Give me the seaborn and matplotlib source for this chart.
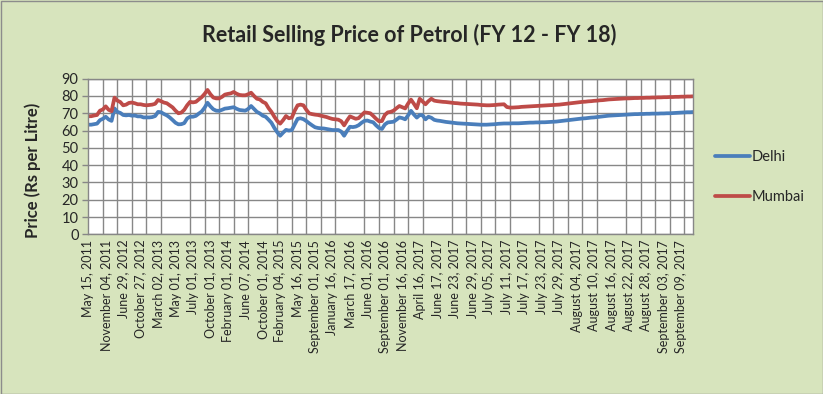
import numpy as np
import pandas as pd
import matplotlib
matplotlib.use('Agg')
import matplotlib.pyplot as plt
import seaborn as sns
from matplotlib.lines import Line2D
from matplotlib.patches import Rectangle

# ---- DATA ------------------------------------------------------------------ #
tick_labels = [
    'May 15, 2011', 'November 04, 2011', 'June 29, 2012', 'October 27, 2012',
    'March 02, 2013', 'May 01, 2013', 'July 01, 2013', 'October 01, 2013',
    'February 01, 2014', 'June 07, 2014', 'October 01, 2014', 'February 04, 2015',
    'May 16, 2015', 'September 01, 2015', 'January 16, 2016', 'March 17, 2016',
    'June 01, 2016', 'September 01, 2016', 'November 16, 2016', 'April 16, 2017',
    'June 17, 2017', 'June 23, 2017', 'June 29, 2017', 'July 05, 2017',
    'July 11, 2017', 'July 17, 2017', 'July 23, 2017', 'July 29, 2017',
    'August 04, 2017', 'August 10, 2017', 'August 16, 2017', 'August 22, 2017',
    'August 28, 2017', 'September 03, 2017', 'September 09, 2017']

delhi = [
    63.4, 63.4, 63.7, 64.0, 66.0, 66.8, 68.0, 66.4, 65.6, 72.8,
    70.8, 70.2, 69.0, 68.8, 69.0, 68.6, 68.7, 68.2, 68.2, 67.6,
    67.6, 67.6, 67.8, 68.4, 70.8, 70.6, 69.6, 68.8, 67.6, 66.1,
    64.5, 63.6, 63.7, 64.3, 67.0, 68.0, 68.0, 68.5, 69.8, 71.0,
    73.2, 76.1, 74.0, 72.3, 71.5, 71.4, 72.0, 72.7, 72.9, 73.2,
    73.5, 72.6, 71.9, 71.7, 71.5, 72.5, 74.2, 72.5, 70.8, 69.9,
    68.6, 68.0, 66.3, 64.5, 61.5, 59.0, 57.0, 58.8, 60.4, 60.0,
    60.3, 63.5, 66.8, 67.1, 66.6, 65.5, 64.2, 63.0, 61.9, 61.5,
    61.3, 61.2, 60.9, 60.6, 60.3, 60.3, 60.3, 59.4, 57.0, 59.8,
    62.2, 62.0, 62.3, 63.1, 64.5, 65.6, 65.8, 65.2, 64.8, 63.0,
    61.5, 60.9, 63.5, 64.7, 64.9, 65.1, 66.3, 67.6, 67.2, 66.5,
    68.8, 71.4, 69.3, 67.5, 69.0, 68.8, 66.5, 68.0, 67.4, 66.2,
    65.8, 65.6, 65.3, 65.0, 64.8, 64.6, 64.4, 64.2, 64.1, 64.0,
    63.9, 63.8, 63.7, 63.6, 63.5, 63.4, 63.4, 63.4, 63.5, 63.6,
    63.7, 63.9, 64.0, 64.1, 64.1, 64.1, 64.2, 64.2, 64.2, 64.3,
    64.4, 64.5, 64.6, 64.6, 64.7, 64.7, 64.8, 64.8, 64.9, 65.0,
    65.1, 65.2, 65.4, 65.6, 65.8, 66.0, 66.2, 66.4, 66.6, 66.8,
    67.0, 67.1, 67.3, 67.5, 67.6, 67.8, 68.0, 68.2, 68.4, 68.6,
    68.7, 68.8, 68.9, 69.0, 69.1, 69.2, 69.3, 69.4, 69.5, 69.5,
    69.6, 69.6, 69.7, 69.7, 69.8, 69.8, 69.8, 69.9, 69.9, 70.0,
    70.0, 70.1, 70.2, 70.3, 70.4, 70.5, 70.6, 70.6, 70.7]

mumbai = [
    68.3, 68.3, 68.7, 69.0, 71.5, 72.2, 74.0, 72.0, 71.2, 79.0,
    77.3, 76.5, 74.6, 75.0, 76.0, 76.2, 75.8, 75.2, 75.2, 74.8,
    74.6, 74.8, 75.0, 75.5, 77.7, 77.0, 76.2, 75.8, 74.6, 73.4,
    71.5, 70.0, 70.4, 72.0, 74.6, 76.6, 76.3, 76.6, 78.0, 79.3,
    81.2, 83.5, 81.0, 79.1, 78.6, 78.6, 79.5, 80.8, 81.2, 81.5,
    82.3, 81.3, 80.6, 80.4, 80.4, 81.0, 81.9, 80.0, 78.4, 78.0,
    76.6, 75.8, 73.0, 70.8, 68.0, 65.5, 64.0, 66.0, 68.4, 67.1,
    67.5, 71.5, 74.6, 75.0, 74.6, 72.0, 69.9, 69.5, 69.2, 69.0,
    68.6, 68.2, 67.8, 67.2, 66.7, 66.5, 66.3, 65.4, 63.0, 65.8,
    68.2, 67.5, 66.8, 67.2, 68.9, 70.5, 70.3, 70.0, 68.5, 66.8,
    65.4, 65.5, 69.0, 70.5, 70.8, 71.5, 72.9, 74.2, 73.5, 72.8,
    75.6, 77.9, 75.5, 72.9, 78.4, 76.8, 75.2, 77.0, 78.4, 77.3,
    77.0, 76.8, 76.6, 76.5, 76.3, 76.1, 75.9, 75.8, 75.6, 75.5,
    75.4, 75.3, 75.2, 75.1, 75.0, 74.8, 74.7, 74.6, 74.6, 74.7,
    74.8, 75.0, 75.1, 75.2, 73.6, 73.3, 73.3, 73.4, 73.5, 73.7,
    73.8, 73.9, 74.0, 74.1, 74.2, 74.3, 74.4, 74.5, 74.6, 74.7,
    74.8, 74.9, 75.0, 75.2, 75.4, 75.6, 75.8, 76.0, 76.2, 76.4,
    76.6, 76.7, 76.9, 77.0, 77.2, 77.3, 77.5, 77.6, 77.8, 78.0,
    78.1, 78.2, 78.3, 78.4, 78.5, 78.6, 78.6, 78.7, 78.8, 78.8,
    78.9, 78.9, 79.0, 79.0, 79.1, 79.1, 79.2, 79.2, 79.3, 79.3,
    79.4, 79.4, 79.5, 79.5, 79.6, 79.6, 79.7, 79.7, 79.8]

colors = {'Delhi': '#4A7EBB', 'Mumbai': '#BE4B48'}

df = pd.DataFrame({'idx': range(len(delhi)), 'Delhi': delhi, 'Mumbai': mumbai})
df = df.melt('idx', var_name='City', value_name='Price')

# ---- PLOT ------------------------------------------------------------------ #
sns.set_theme(style='white')
plt.rcParams['font.family'] = ['Lato', 'DejaVu Sans']

fig = plt.figure(figsize=(8.23, 3.94), dpi=100)
fig.patch.set_facecolor('#D7E4BD')
ax = fig.add_axes([0.1073, 0.4053, 0.7347, 0.395])
ax.set_facecolor('white')

sns.lineplot(data=df, x='idx', y='Price', hue='City', palette=colors,
             linewidth=2.7, ax=ax, legend=False)

n = len(delhi)
ax.set_xlim(0, n - 1)
ax.set_ylim(0, 90)
ax.set_yticks(range(0, 91, 10))
ax.set_xticks(np.arange(len(tick_labels)) * 6)
ax.set_xticklabels(tick_labels, rotation=90, fontsize=9)
ax.set_xticks(np.arange(0, n, 5), minor=True)
ax.set_xlabel('')
ax.set_ylabel('')

grid_c = '#878787'
ax.set_axisbelow(True)
ax.grid(which='minor', axis='x', color=grid_c, lw=1.0)
ax.grid(which='major', axis='y', color=grid_c, lw=1.0)
ax.grid(which='major', axis='x', visible=False)
ax.tick_params(axis='x', which='major', length=0, pad=4)
ax.tick_params(axis='x', which='minor', length=4, direction='out', color=grid_c, width=1)
ax.tick_params(axis='y', length=4, direction='out', color=grid_c, width=1,
               labelsize=10.5, pad=3)
ax.tick_params(left=True, bottom=True)
for s in ax.spines.values():
    s.set_color(grid_c)
    s.set_linewidth(1)

handles = [Line2D([], [], color=colors[c], lw=2.7) for c in colors]
ax.legend(handles, list(colors), loc='upper left', bbox_to_anchor=(702 / 823, 1 - 137 / 394),
          bbox_transform=fig.transFigure, frameon=False, handlelength=2.4,
          handletextpad=0.1, labelspacing=1.75, fontsize=10.5)

fig.text(409 / 823, 1 - 35 / 394, 'Retail Selling Price of Petrol (FY 12 - FY 18)',
         ha='center', va='center', fontsize=15.5, fontweight='bold')
fig.text(33 / 823, 1 - 170 / 394, 'Price (Rs per Litre)', rotation=90,
         ha='center', va='center', fontsize=12, fontweight='bold')

fig.add_artist(Rectangle((0.5 / 823, 0.5 / 394), 1 - 1 / 823, 1 - 1 / 394,
                         transform=fig.transFigure, fill=False,
                         edgecolor='#8C8C8C', lw=1))

fig.savefig('out.png', dpi=100, facecolor=fig.get_facecolor())
